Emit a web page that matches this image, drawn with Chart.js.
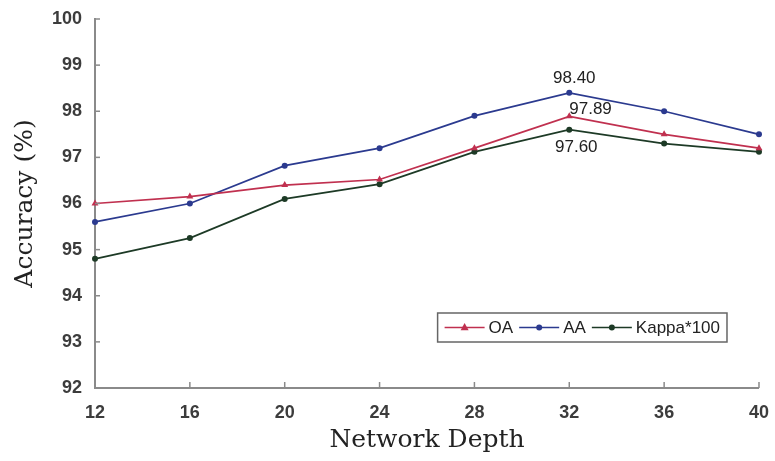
<!DOCTYPE html>
<html>
<head>
<meta charset="utf-8">
<script src="https://cdn.jsdelivr.net/npm/chart.js@4"></script>
<style>
  html, body { margin: 0; padding: 0; background: #fff; }
</style>
</head>
<body>
<canvas id="chart" width="775" height="461"></canvas>
<script>
// values
const depths = ['12', '16', '20', '24', '28', '32', '36', '40'];
const oa = [96.0, 96.15, 96.4, 96.52, 97.2, 97.89, 97.5, 97.2];
const aa = [95.6, 96.0, 96.82, 97.2, 97.9, 98.4, 98.0, 97.5];
const kappa = [94.8, 95.25, 96.1, 96.42, 97.12, 97.6, 97.3, 97.12];
const seriesNames = ['OA', 'AA', 'Kappa*100'];
const seriesColors = ['#c0304f', '#2b3a8f', '#1d3a26'];
const seriesMarkers = ['triangle', 'circle', 'circle'];

// annotated values at depth 32
const annotations = [
    { series: 1, index: 5, text: '98.40', dx: 5, dy: -14, align: 'center' },
    { series: 0, index: 5, text: '97.89', dx: 0, dy: -7, align: 'left' },
    { series: 2, index: 5, text: '97.60', dx: 7, dy: 18, align: 'center' },
];

const sansFamily = 'Liberation Sans, Arial, sans-serif';
const tickFont = { family: sansFamily, size: 18, weight: 'bold' };
const textGray = '#3c3c3c';
const axisGray = '#8a8a8a';

function drawMarker(ctx, style, x, y, r, color) {
    ctx.save();
    ctx.fillStyle = color;
    ctx.beginPath();
    if (style === 'triangle') {
        ctx.moveTo(x, y - r * 1.1);
        ctx.lineTo(x + r, y + r * 0.7);
        ctx.lineTo(x - r, y + r * 0.7);
        ctx.closePath();
    } else {
        ctx.arc(x, y, r, 0, Math.PI * 2);
    }
    ctx.fill();
    ctx.restore();
}

// short tick marks pointing into the plot
const inwardTicks = {
    id: 'inwardTicks',
    afterDraw(chart) {
        const {ctx, chartArea, scales} = chart;
        ctx.save();
        ctx.strokeStyle = axisGray;
        ctx.lineWidth = 1.5;
        scales.y.ticks.forEach(t => {
            const y = scales.y.getPixelForValue(t.value);
            ctx.beginPath();
            ctx.moveTo(chartArea.left, y);
            ctx.lineTo(chartArea.left + 5, y);
            ctx.stroke();
        });
        depths.forEach((d, i) => {
            const x = scales.x.getPixelForValue(i);
            ctx.beginPath();
            ctx.moveTo(x, chartArea.bottom);
            ctx.lineTo(x, chartArea.bottom - 6);
            ctx.stroke();
        });
        ctx.restore();
    }
};

const valueLabels = {
    id: 'valueLabels',
    afterDatasetsDraw(chart) {
        const ctx = chart.ctx;
        ctx.save();
        ctx.font = '17px ' + sansFamily;
        ctx.fillStyle = '#222';
        ctx.textBaseline = 'middle';
        annotations.forEach(a => {
            const pt = chart.getDatasetMeta(a.series).data[a.index];
            ctx.textAlign = a.align;
            ctx.fillText(a.text, pt.x + a.dx, pt.y + a.dy);
        });
        ctx.restore();
    }
};

// boxed legend sitting in the lower right of the plot
const boxLegend = {
    id: 'boxLegend',
    afterDraw(chart) {
        const {ctx, chartArea} = chart;
        ctx.save();
        ctx.font = '17px ' + sansFamily;
        const sample = 40, pad = 7;
        let width = pad;
        const widths = seriesNames.map(n => ctx.measureText(n).width);
        widths.forEach((w, i) => { width += sample + 4 + w + (i < widths.length - 1 ? 6 : pad); });
        const h = 29;
        const right = chartArea.right - 32;
        const bottom = chartArea.bottom - 46;
        const left = right - width, top = bottom - h;
        ctx.fillStyle = '#fff';
        ctx.fillRect(left, top, width, h);
        ctx.strokeStyle = '#666';
        ctx.lineWidth = 1.5;
        ctx.strokeRect(left, top, width, h);
        let x = left + pad;
        const cy = top + h / 2;
        seriesNames.forEach((n, i) => {
            ctx.strokeStyle = seriesColors[i];
            ctx.lineWidth = 1.5;
            ctx.beginPath();
            ctx.moveTo(x, cy);
            ctx.lineTo(x + sample, cy);
            ctx.stroke();
            drawMarker(ctx, seriesMarkers[i], x + sample / 2, cy, i === 0 ? 4 : 3, seriesColors[i]);
            x += sample + 4;
            ctx.fillStyle = '#222';
            ctx.textBaseline = 'middle';
            ctx.textAlign = 'left';
            ctx.fillText(n, x, cy + 1);
            x += widths[i] + 6;
        });
        ctx.restore();
    }
};

const datasets = [oa, aa, kappa].map((vals, i) => ({
    label: seriesNames[i],
    data: vals,
    borderColor: seriesColors[i],
    backgroundColor: seriesColors[i],
    borderWidth: 1.7,
    pointStyle: seriesMarkers[i],
    pointRadius: i === 0 ? 4 : 3,
    pointBorderWidth: 0,
    tension: 0,
}));

new Chart(document.getElementById('chart'), {
    type: 'line',
    data: { labels: depths, datasets: datasets },
    options: {
        responsive: false,
        animation: false,
        layout: { padding: { top: 19, right: 11, left: 0, bottom: 0 } },
        plugins: {
            legend: { display: false },
            tooltip: { enabled: false },
        },
        scales: {
            x: {
                type: 'category',
                offset: false,
                grid: { display: false },
                border: { display: true, color: axisGray, width: 2 },
                ticks: { font: tickFont, color: textGray, padding: 6, maxRotation: 0, autoSkip: false },
                title: {
                    display: true,
                    text: 'Network Depth',
                    font: { family: 'DejaVu Serif', size: 25 },
                    color: '#222',
                    padding: { top: 4, bottom: 6 },
                },
                afterFit(scale) { scale.height = 73; },
            },
            y: {
                min: 92,
                max: 100,
                grid: { display: false },
                border: { display: true, color: axisGray, width: 2 },
                ticks: { stepSize: 1, font: tickFont, color: textGray, padding: 5 },
                title: {
                    display: true,
                    text: 'Accuracy (%)',
                    font: { family: 'DejaVu Serif', size: 25 },
                    color: '#222',
                    padding: { top: 10, bottom: 4 },
                },
                afterFit(scale) { scale.width = 95; },
            },
        },
    },
    plugins: [inwardTicks, valueLabels, boxLegend],
});
</script>
</body>
</html>
